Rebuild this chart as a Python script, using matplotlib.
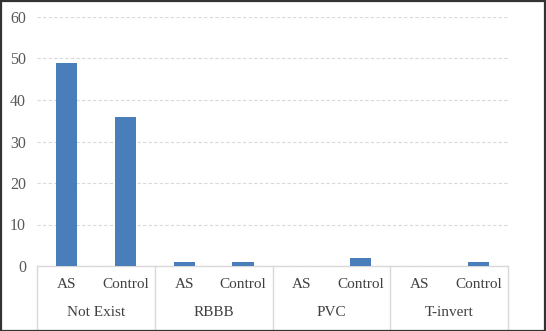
import matplotlib
matplotlib.use("Agg")
import matplotlib.pyplot as plt
from matplotlib.lines import Line2D
from matplotlib.patches import Rectangle
from matplotlib.transforms import blended_transform_factory

groups = ["Not Exist", "RBBB", "PVC", "T-invert"]
subgroups = ["AS", "Control"]
values = [49, 36, 1, 1, 0, 2, 0, 1]
yticks = [0, 10, 20, 30, 40, 50, 60]

plt.rcParams['font.family'] = ['Liberation Serif', 'DejaVu Serif']

W, H = 546, 331
fig = plt.figure(figsize=(W / 100, H / 100), dpi=100)
left, right, top, bottom = 37, 508, 17, 266
ax = fig.add_axes([left / W, (H - bottom) / H, (right - left) / W, (bottom - top) / H])

n = len(values)
x = list(range(n))
ax.bar(x, values, width=0.36, color="#4A7EBB", zorder=3)
ax.set_xlim(-0.5, n - 0.5)
ax.set_ylim(0, 60)
ax.set_yticks(yticks)
ax.set_yticklabels([str(v) for v in yticks], fontsize=11.5, color="#595959")
ax.tick_params(axis='y', length=0, pad=8)
ax.set_xticks([])
ax.yaxis.grid(True, linestyle=(0, (3, 2)), color="#d9d9d9", linewidth=0.8, zorder=0)
for s in ["top", "right", "left"]:
    ax.spines[s].set_visible(False)
ax.spines["bottom"].set_color("#d9d9d9")
ax.spines["bottom"].set_linewidth(1)

trans = blended_transform_factory(ax.transData, fig.transFigure)
y1 = (H - 285) / H
y2 = (H - 313) / H
for i in range(n):
    ax.text(i, y1, subgroups[i % 2], transform=trans, ha="center", va="center",
            fontsize=11, color="#404040")
for g, name in enumerate(groups):
    ax.text(2 * g + 0.5, y2, name, transform=trans, ha="center", va="center",
            fontsize=11, color="#404040")
ybot = (H - 329) / H
ytop = (H - bottom) / H
for g in range(len(groups) + 1):
    xs = 2 * g - 0.5
    ax.add_line(Line2D([xs, xs], [ytop, ybot], transform=trans, color="#d9d9d9",
                       linewidth=1, clip_on=False))

fig.patches.append(Rectangle((0.5 / W, 0.5 / H), 1 - 1.5 / W, 1 - 1.5 / H,
                             transform=fig.transFigure, fill=False,
                             edgecolor="#333333", linewidth=1.6))
fig.savefig("out.png", dpi=100)
